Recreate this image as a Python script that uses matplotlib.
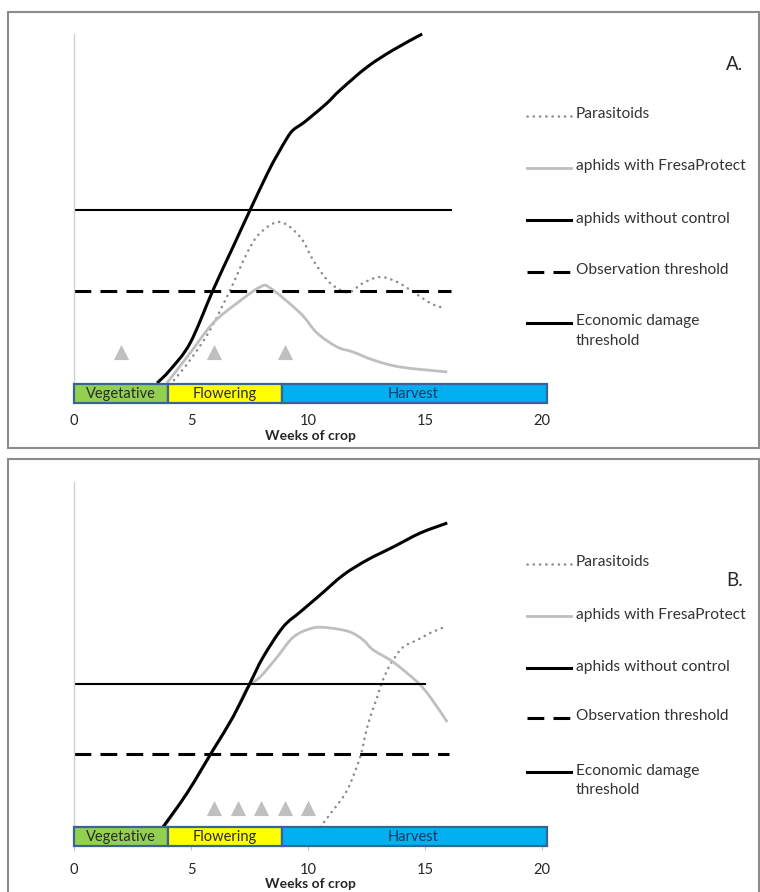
import numpy as np
import matplotlib
matplotlib.use("Agg")
import matplotlib.pyplot as plt
from matplotlib.lines import Line2D
from matplotlib.patches import Rectangle, PathPatch
from matplotlib.path import Path

plt.rcParams['font.family'] = ['Lato', 'DejaVu Sans']

# --------------------------
# Data (weeks, arbitrary population units)
# --------------------------
weeks_ticks = [0, 5, 10, 15, 20]
phases = ['Vegetative', 'Flowering', 'Harvest']
phase_start = [0, 4, 8.9]
phase_end = [4, 8.9, 20.2]
phase_colors = ['#92d050', '#ffff00', '#00b0f0']
phase_text_x = [2.0, 6.45, 14.5]

# Panel A
a_nocontrol_x = [3.55, 4.10, 4.96, 5.94, 6.79, 7.52, 8.29, 8.68, 9.10, 9.36, 9.79, 10.21,
                 10.81, 11.37, 12.52, 13.63, 14.87]
a_nocontrol_y = [20, 33, 60, 113, 156, 193, 231, 248, 265, 273, 280, 288,
                 300, 313, 336, 353, 369]
a_fresa_x = [3.97, 4.96, 5.94, 6.97, 7.95, 8.38, 9.66, 10.38, 11.24, 11.92, 12.78, 13.93, 15.94]
a_fresa_y = [20, 50, 80, 100, 116, 115, 90, 70, 56, 51, 43, 36, 31]
a_parasit_x = [4.10, 4.96, 5.81, 6.67, 7.39, 7.95, 8.80, 9.66, 10.21, 10.81, 11.37, 11.79,
               12.35, 13.08, 13.80, 14.49, 15.21, 15.77]
a_parasit_y = [18, 43, 73, 113, 150, 170, 181, 166, 143, 123, 113, 111,
               120, 126, 121, 111, 100, 95]
a_econ = 193
a_econ_end = 16.1
a_obs = 112
a_obs_end = 16.1
a_release_x = [2, 6, 9]
a_release_y = 51

# Panel B
b_nocontrol_x = [3.80, 4.83, 5.94, 6.79, 7.52, 8.08, 8.93, 9.66, 10.51, 11.5, 12.52, 13.63, 14.79, 15.94]
b_nocontrol_y = [19, 53, 96, 129, 163, 189, 219, 234, 251, 271, 286, 299, 313, 323]
b_fresa_x = [3.85, 4.83, 5.94, 6.79, 7.39, 7.95, 8.68, 9.37, 10.2, 10.94, 11.79, 12.35,
             12.78, 13.63, 14.66, 15.21, 15.94]
b_fresa_y = [19, 53, 96, 129, 158, 169, 189, 209, 218, 218, 214, 206,
             196, 184, 164, 149, 124]
b_parasit_x = [10.51, 11.07, 11.67, 12.22, 12.44, 12.65, 12.95, 13.08, 13.38, 13.63,
               14.06, 14.66, 15.21, 15.73]
b_parasit_y = [19, 36, 56, 89, 111, 129, 149, 159, 176, 186, 199, 206, 213, 218]
b_econ = 162
b_econ_end = 15.0
b_obs = 92
b_obs_end = 16.0
b_release_x = [6, 7, 8, 9, 10]
b_release_y = 38

legend_labels = ['Parasitoids', 'aphids with FresaProtect', 'aphids without control',
                 'Observation threshold', 'Economic damage\nthreshold']

# --------------------------
# Styles
# --------------------------
W, H = 760, 892
st_parasit = dict(color='#8c8c8c', lw=1.8, linestyle=(0, (0.1, 2.4)), dash_capstyle='round')
st_fresa = dict(color='#bfbfbf', lw=2.0)
st_nocontrol = dict(color='black', lw=2.2)
st_obs = dict(color='black', lw=2.2, linestyle=(0, (5.5, 3)))
st_econ = dict(color='black', lw=1.5)
st_econ_leg = dict(color='black', lw=2.2)
legend_styles = [st_parasit, st_fresa, st_nocontrol, st_obs, st_econ_leg]


def fx(px):
    return px / W


def fy(py):
    return 1 - py / H


def smooth_line(ax, x, y, color, lw, linestyle='-', capstyle='butt', clip=True):
    """Excel-style smoothed line: bezier segments through the read points"""
    p = np.column_stack([x, y]).astype(float)
    n = len(p)
    verts = [p[0]]
    codes = [Path.MOVETO]
    for i in range(n - 1):
        p0 = p[i - 1] if i > 0 else p[i]
        p3 = p[i + 2] if i + 2 < n else p[i + 1]
        c1 = p[i] + (p[i + 1] - p0) / 6
        c2 = p[i + 1] - (p3 - p[i]) / 6
        verts += [c1, c2, p[i + 1]]
        codes += [Path.CURVE4] * 3
    patch = PathPatch(Path(verts, codes), fill=False, edgecolor=color, lw=lw,
                      linestyle=linestyle, capstyle=capstyle, clip_on=clip)
    ax.add_patch(patch)


def draw_panel(ax, ytop, nocx, nocy, frx, fry, parx, pary, econ, econ_end, obs, obs_end,
               rel_x, rel_y, tick_len, pad):
    ax.set_xlim(0, 20.2)
    ax.set_ylim(0, ytop)
    for s in ['top', 'right', 'bottom']:
        ax.spines[s].set_visible(False)
    ax.spines['left'].set_color('#d0d0d0')
    ax.spines['left'].set_linewidth(1.0)
    ax.set_yticks([])
    ax.set_xticks(weeks_ticks)
    ax.tick_params(axis='x', length=tick_len, color='#bfbfbf', pad=pad, labelsize=10.5,
                   labelcolor='#262626')
    ax.set_xlabel('Weeks of crop', fontsize=10, fontweight='bold', labelpad=1, color='#262626')

    ax.plot([0, econ_end], [econ, econ], **st_econ)
    ax.plot([0, obs_end], [obs, obs], **st_obs)
    smooth_line(ax, parx, pary, st_parasit['color'], st_parasit['lw'],
                st_parasit['linestyle'], 'round')
    smooth_line(ax, frx, fry, st_fresa['color'], st_fresa['lw'])
    smooth_line(ax, nocx, nocy, 'black', st_nocontrol['lw'], clip=False)
    ax.scatter(rel_x, [rel_y] * len(rel_x), marker='^', s=120, color='#bfbfbf', zorder=3,
               linewidths=0)

    # crop phase bar
    widths = [e - s for s, e in zip(phase_start, phase_end)]
    ax.barh(9.5, widths, left=phase_start, height=19, color=phase_colors,
            edgecolor='#3a6496', linewidth=1.6, zorder=4, clip_on=False)
    txt_colors = ['#2b2b2b', '#2b2b2b', '#1f3864']
    for name, tx, c in zip(phases, phase_text_x, txt_colors):
        ax.text(tx, 9, name, ha='center', va='center', fontsize=10.5, color=c, zorder=5)


fig = plt.figure(figsize=(W / 100, H / 100), dpi=100)

# panel borders
fig.add_artist(Rectangle((fx(8), fy(448)), fx(751), 436 / H, transform=fig.transFigure,
                         fill=False, edgecolor='#8c8c8c', lw=1.5))
fig.add_artist(Rectangle((fx(8), fy(900)), fx(751), 441 / H, transform=fig.transFigure,
                         fill=False, edgecolor='#8c8c8c', lw=1.5))

axA = fig.add_axes([fx(74), fy(403), fx(473), 369 / H])
draw_panel(axA, 369, a_nocontrol_x, a_nocontrol_y, a_fresa_x, a_fresa_y, a_parasit_x, a_parasit_y,
           a_econ, a_econ_end, a_obs, a_obs_end, a_release_x, a_release_y, 0, 8)

axB = fig.add_axes([fx(74), fy(846), fx(473), 364 / H])
draw_panel(axB, 364, b_nocontrol_x, b_nocontrol_y, b_fresa_x, b_fresa_y, b_parasit_x, b_parasit_y,
           b_econ, b_econ_end, b_obs, b_obs_end, b_release_x, b_release_y, 3, 9)

# --------------------------
# Legends (drawn by hand, Excel-like)
# --------------------------
legend_rows = {'A.': ([116, 168, 220, 272, 323], 65), 'B.': ([564, 616, 668, 718, 772], 580)}
for tag, (rows, tag_y) in legend_rows.items():
    for lab, st, y in zip(legend_labels, legend_styles, rows):
        fig.add_artist(Line2D([fx(527), fx(571)], [fy(y), fy(y)], transform=fig.transFigure, **st))
        fig.text(fx(576), fy(y - 8.5), lab, ha='left', va='top', fontsize=11.2, color='#333333',
                 linespacing=1.5)
    fig.text(fx(735), fy(tag_y), tag, ha='center', va='center', fontsize=13.5, color='#262626')

fig.savefig('out.png', dpi=100)
